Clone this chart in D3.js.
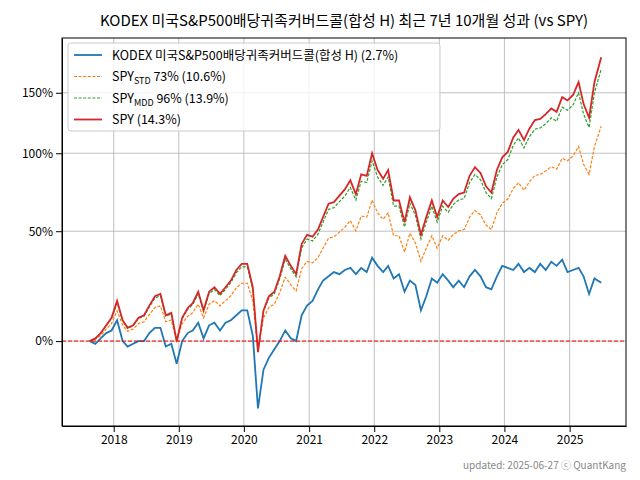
<!DOCTYPE html>
<html><head><meta charset="utf-8">
<script src="https://cdn.jsdelivr.net/npm/d3@7"></script>
<style>body{margin:0;background:#fff}text{font-family:"Noto Sans CJK KR","DejaVu Sans",sans-serif}</style>
</head><body><svg id="c" width="640" height="480"></svg>
<script>
// monthly returns (%) from 2017-08 to 2025-06
const startMonth = new Date(2017, 7, 20);
const spy = [0,1,3,6,9, 16,8,5,6,9,10,14,18,19,10,11,0, 9,13,15,20,12,20,22,19,22,25,30,33,
  33,22,-4,12,18,20,27,37,32,28,43,48, 47,51,58,66,67,71,75,81,72,85,84,100,
  88,82,88,68,68,55,70,62,48,58,68,58, 68,64,69,72,73,84,90,86,77,73,88,97,
  101,112,118,110,119,126,127,131,136,133,146,143, 148,160,140,128,160,185];
const spyStd = [0,0.7,2,4.5,6.7, 11.8,6,3.7,4.5,6.7,7.4,10.3,13.2,13.9,7.4,8.1,0,
  6.7,9.6,11,14.6,8.9,14.6,16.1,13.9,16.1,18.2,21.8,23.8,
  23.8,16.1,-3,8.9,13.2,14.6,19.6,26.6,23.1,20.3,30.7,34.2,
  33.5,36.2,40.9,46.2,46.9,49.5,52.2,56,50.2,58.6,58,68.2,
  60.5,56.7,60.5,47.5,47.5,38.9,48.9,43.6,34.2,40.9,47.5,40.9,
  47.5,45,48.2,50.2,50.9,58,61.8,59.3,53.4,50.9,60.5,66.3,
  68.9,75.7,79.4,74.4,80,84.3,84.9,87.4,90.4,88.6,96.3,94.5, 98,105,92,85,105,121];
const spyMdd = [0,1,2.9,5.8,8.7, 15.1,7.7,4.8,5.8,8.7,9.6,13.4,17.2,18.2,9.6,10.5,0,
  8.7,12.4,14.4,19.1,11.5,19.1,21,18.2,21,24.1,28.7,31.5,
  31.5,21,-3.8,11.5,17.2,19.1,25.8,35.3,30.5,26.7,41,45.7,
  44.7,48.5,55.1,62.6,63.6,67.3,70.8,76.3,68.3,80.4,79.5,94.5,
  83.2,77.6,83.2,64.5,64.5,52.3,66.4,58.9,45.7,55.1,64.5,55.1,
  64.5,60.8,65.5,68.3,69.2,79.5,85,81.4,72.9,69.2,83.2,91.7,
  95.4,106,111.7,104,112.6,118.6,119.5,123.1,127.9,125.1,137.1,134.4, 139,150,131,120,150,173];
const kodex = [0,-1,1,3,4, 8,0,-2,-1,0,0,3,5,5,-2,-1,-8,
  0,3,4,7,1,6,7,4,7,8,10,12,
  12,2,-22,-10,-6,-3,0,4,1,0,10,14,
  16,21,25,27,29,28,30,31,28,31,29,36,
  32,29,32,26,28,20,25,23,12,18,26,24,
  28,25,22,25,22,27,30,27,22,21,27,32,
  31,30,33,29,31,29,33,30,34,32,35,29, 30,31,27,19,26,24];
const series = [
  {name: "KODEX 미국S&P500배당귀족커버드콜(합성 H)", cagr: "(2.7%)", values: kodex, color: "#1f77b4", dash: null, w: 1.8},
  {name: "SPY", sub: "STD", rest: " 73% (10.6%)", values: spyStd, color: "#ff7f0e", dash: "3,1.6", w: 1.2},
  {name: "SPY", sub: "MDD", rest: " 96% (13.9%)", values: spyMdd, color: "#2ca02c", dash: "3,1.6", w: 1.2},
  {name: "SPY", cagr: "(14.3%)", values: spy, color: "#d62728", dash: null, w: 1.8}
];
const yTicks = [0, 50, 100, 150];
const yearTicks = d3.range(2018, 2026);
const title = "KODEX 미국S&P500배당귀족커버드콜(합성 H) 최근 7년 10개월 성과 (vs SPY)";

const dates = spy.map((d, i) => {
  if (i === spy.length - 1) return new Date(2025, 5, 27);
  return d3.timeMonth.offset(startMonth, i);
});

const svg = d3.select("#c");
const L = 62, R = 626, T = 38, B = 426;
const x = d3.scaleTime().domain([new Date(2017, 2, 17), new Date(2025, 10, 13)]).range([L, R]);
const y = d3.scaleLog().domain([0.731, 3.06]).range([B, T]);

// grid
svg.append("g").selectAll("line").data(yearTicks).join("line")
  .attr("x1", d => x(new Date(d, 0, 1))).attr("x2", d => x(new Date(d, 0, 1)))
  .attr("y1", T).attr("y2", B).attr("stroke", "#b0b0b0").attr("stroke-width", 0.8);
svg.append("g").selectAll("line").data(yTicks).join("line")
  .attr("x1", L).attr("x2", R).attr("y1", d => y(1 + d / 100)).attr("y2", d => y(1 + d / 100))
  .attr("stroke", "#b0b0b0").attr("stroke-width", 0.8);

// lines
const line = d3.line().x((d, i) => x(dates[i])).y(d => y(1 + d / 100));
series.forEach(s => {
  svg.append("path").datum(s.values).attr("d", line).attr("fill", "none")
    .attr("stroke", s.color).attr("stroke-width", s.w).attr("stroke-dasharray", s.dash);
});

// zero line
svg.append("line").attr("x1", L).attr("x2", R).attr("y1", y(1)).attr("y2", y(1))
  .attr("stroke", "red").attr("stroke-width", 1).attr("stroke-dasharray", "4,2");

// axes
svg.append("g").attr("transform", `translate(0,${B})`)
  .call(d3.axisBottom(x).tickValues(yearTicks.map(d => new Date(d, 0, 1))).tickFormat(d3.timeFormat("%Y")).tickSizeOuter(0))
  .call(g => g.selectAll("text").attr("font-size", 12).attr("fill", "#000"));
svg.append("g").attr("transform", `translate(${L},0)`)
  .call(d3.axisLeft(y).tickValues(yTicks.map(d => 1 + d / 100)).tickFormat(d => Math.round((d - 1) * 100) + "%").tickSizeOuter(0))
  .call(g => g.selectAll("text").attr("font-size", 12).attr("fill", "#000"));
svg.append("rect").attr("x", L).attr("y", T).attr("width", R - L).attr("height", B - T)
  .attr("fill", "none").attr("stroke", "#000").attr("stroke-width", 1);

// title
svg.append("text").attr("x", (L + R) / 2).attr("y", 26).attr("text-anchor", "middle")
  .attr("font-size", 15).text(title);

// legend
const lg = svg.append("g").attr("transform", "translate(68,43)");
lg.append("rect").attr("width", 372).attr("height", 88).attr("rx", 3)
  .attr("fill", "#fff").attr("fill-opacity", 0.8).attr("stroke", "#ccc");
series.forEach((s, i) => {
  const yy = 12 + i * 21.5;
  lg.append("line").attr("x1", 6).attr("x2", 34).attr("y1", yy).attr("y2", yy)
    .attr("stroke", s.color).attr("stroke-width", s.w).attr("stroke-dasharray", s.dash);
  const t = lg.append("text").attr("x", 44).attr("y", yy + 4.5).attr("font-size", 12.5);
  if (s.sub) {
    t.append("tspan").text(s.name);
    t.append("tspan").attr("font-size", 9).attr("dy", 3).text(s.sub);
    t.append("tspan").attr("dy", -3).text(s.rest);
  } else {
    t.text(s.name + " " + s.cagr);
  }
});

svg.append("text").attr("x", 626).attr("y", 469).attr("text-anchor", "end")
  .attr("font-size", 10).attr("fill", "#888").text("updated: 2025-06-27 ⓒ QuantKang");
</script></body></html>
